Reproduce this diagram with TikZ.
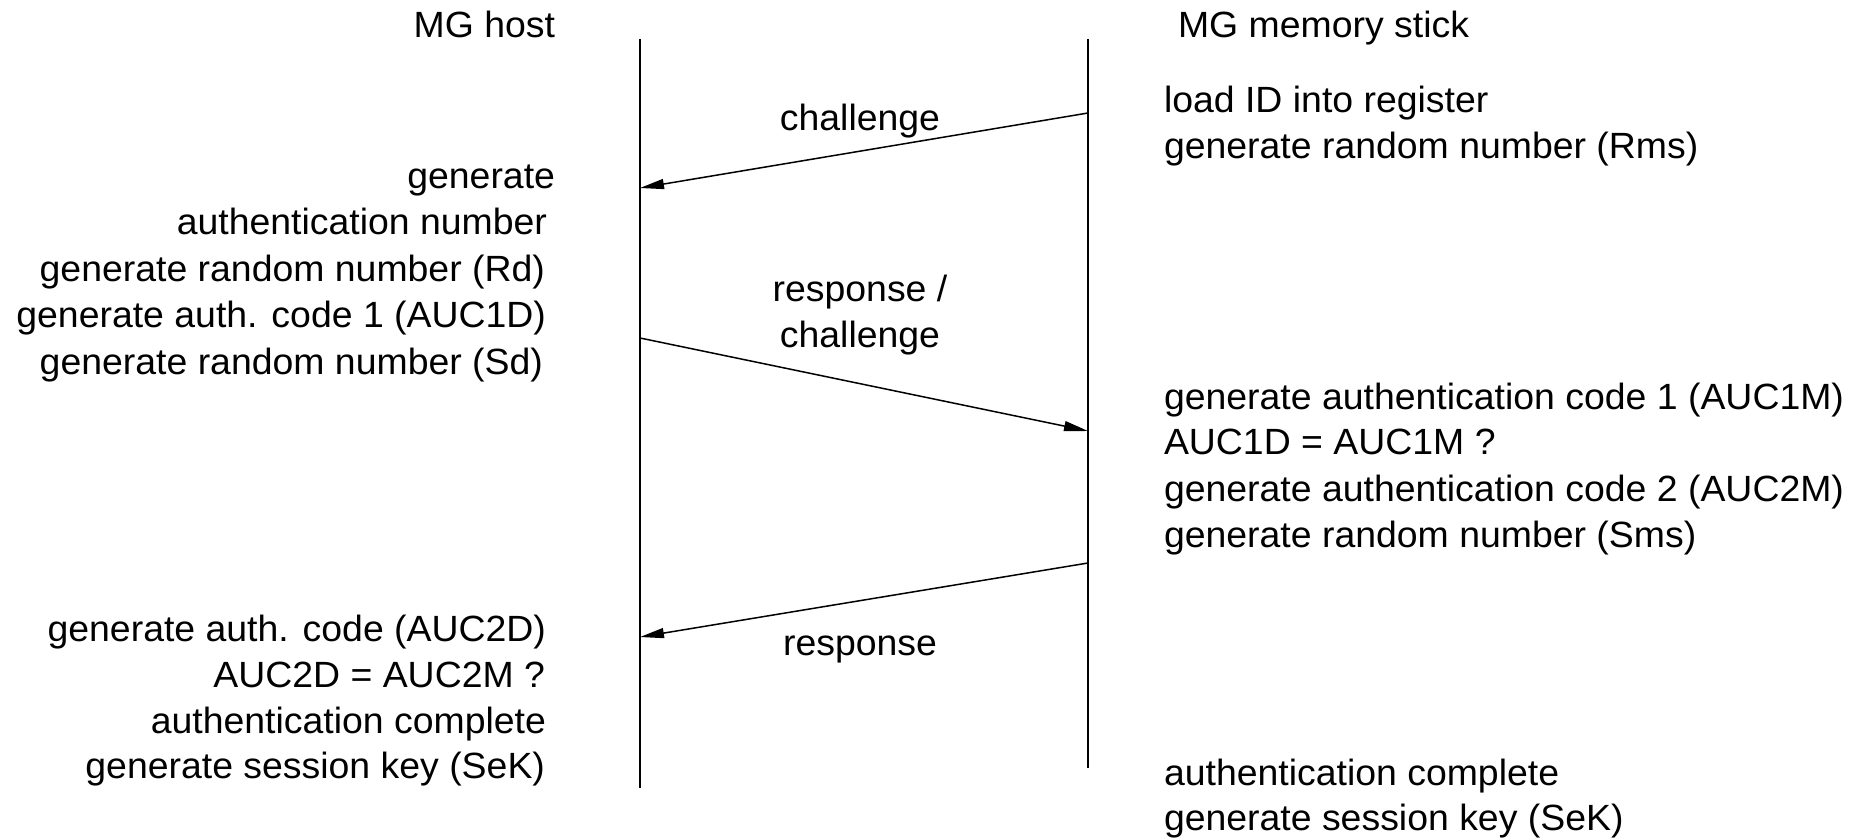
\documentclass[tikz,border=0pt]{standalone}
\usepackage{fontspec}
\setmainfont[FakeStretch=1.025]{Liberation Sans}
\usetikzlibrary{arrows.meta}
\begin{document}
\begin{tikzpicture}[x=1pt,y=-1pt,
  every node/.style={inner sep=0pt,outer sep=0pt,font=\fontsize{36.5}{46}\selectfont},
  lifeline/.style={line width=1.3pt,black},
  msg/.style={line width=1.5pt,-{Triangle[length=24pt,width=10pt]}},
  hosttxt/.style={anchor=base east},
  sticktxt/.style={anchor=base west},
  msglabel/.style={anchor=base}]
\useasboundingbox (0,0) rectangle (1866,840);

% participants
\node[hosttxt] (hosthead) at (555,38) {MG host};
\node[sticktxt] (stickhead) at (1178,38) {MG memory stick};

% lifelines
\coordinate (hostTop) at (640,39);
\coordinate (hostBot) at (640,788);
\coordinate (stickTop) at (1088,39);
\coordinate (stickBot) at (1088,768);
\draw[lifeline] (hostTop) -- (hostBot);
\draw[lifeline] (stickTop) -- (stickBot);

% message end points
\coordinate (m1a) at (1088,113);
\coordinate (m1b) at (640,188);
\coordinate (m2a) at (640,338);
\coordinate (m2b) at (1088,431);
\coordinate (m3a) at (1088,563);
\coordinate (m3b) at (640,637);

\draw[msg] (m1a) -- (m1b);
\draw[msg] (m2a) -- (m2b);
\draw[msg] (m3a) -- (m3b);

% message labels
\node[msglabel] (l1) at (860,131) {challenge};
\node[msglabel] (l2a) at (860,301) {response /};
\node[msglabel] (l2b) at (860,347) {challenge};
\node[msglabel] (l3) at (860,655) {response};

% memory stick actions
\node[sticktxt] (s1) at (1164,113) {load ID into register};
\node[sticktxt] (s2) at (1164,159) {generate random number (Rms)};
\node[sticktxt] (s3) at (1164,409) {generate authentication code 1 (AUC1M)};
\node[sticktxt] (s4) at (1164,454) {AUC1D = AUC1M ?};
\node[sticktxt] (s5) at (1164,501) {generate authentication code 2 (AUC2M)};
\node[sticktxt] (s6) at (1164,547) {generate random number (Sms)};
\node[sticktxt] (s7) at (1164,785) {authentication complete};
\node[sticktxt] (s8) at (1164,830) {generate session key (SeK)};

% host actions
\node[hosttxt] (h1) at (555,188) {generate};
\node[hosttxt] (h2) at (547,234) {authentication number};
\node[hosttxt] (h3) at (545,281) {generate random number (Rd)};
\node[hosttxt] (h4) at (546,327) {generate auth. code 1 (AUC1D)};
\node[hosttxt] (h5) at (543,374) {generate random number (Sd)};
\node[hosttxt] (h6) at (546,641) {generate auth. code (AUC2D)};
\node[hosttxt] (h7) at (545,687) {AUC2D = AUC2M ?};
\node[hosttxt] (h8) at (546,733) {authentication complete};
\node[hosttxt] (h9) at (545,778) {generate session key (SeK)};
\end{tikzpicture}
\end{document}
